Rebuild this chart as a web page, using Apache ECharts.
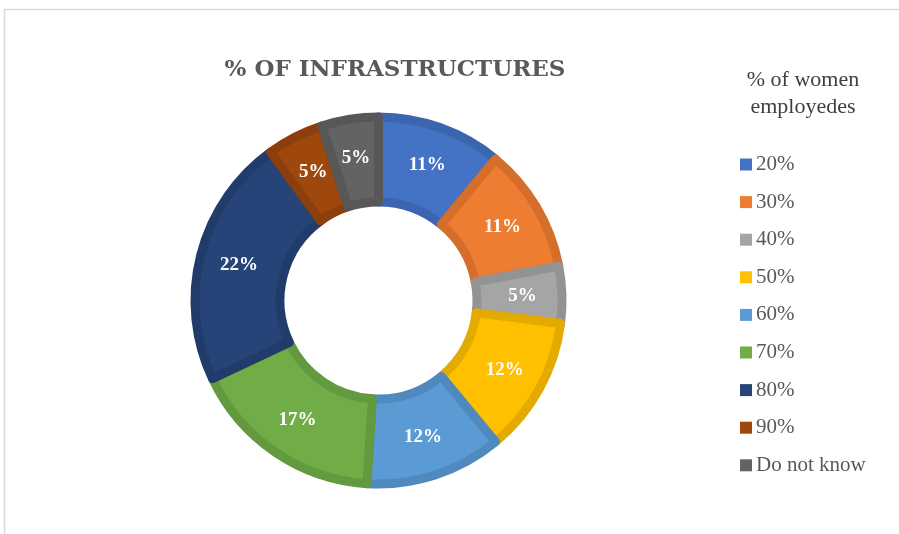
<!DOCTYPE html>
<html>
<head>
<meta charset="utf-8">
<script src="https://cdn.jsdelivr.net/npm/echarts@6/dist/echarts.min.js"></script>
<style>
  html, body { margin: 0; padding: 0; background: #fff; }
  #chart { width: 899px; height: 534px; }
</style>
</head>
<body>
<div id="chart"></div>
<script>
// Share of infrastructures by percentage of women employees
const categories = ['20%', '30%', '40%', '50%', '60%', '70%', '80%', '90%', 'Do not know'];
const shares = [11, 11, 5, 12, 12, 17, 22, 5, 5];
const fillColors = ['#4472C4', '#ED7D31', '#A5A5A5', '#FFC000', '#5B9BD5', '#70AD47', '#264478', '#9E480E', '#636363'];
const edgeColors = ['#3C65B0', '#D46E2A', '#939393', '#E3AB00', '#5089BE', '#63993F', '#213C6A', '#8C3F0C', '#575757'];

const serif = '"Liberation Serif", "DejaVu Serif", serif';

const chart = echarts.init(document.getElementById('chart'), null, { renderer: 'canvas' });

chart.setOption({
  animation: false,
  backgroundColor: '#ffffff',
  title: [
    {
      text: '% OF INFRASTRUCTURES',
      left: 390,
      top: 54,
      textAlign: 'center',
      textStyle: { fontFamily: '"DejaVu Serif", serif', fontSize: 23, fontWeight: 'bold', color: '#595959' }
    },
    {
      text: '% of women\nemployedes',
      left: 798,
      top: 62,
      textAlign: 'center',
      textStyle: { fontFamily: serif, fontSize: 22, fontWeight: 'normal', color: '#404040', lineHeight: 27 }
    }
  ],
  legend: {
    orient: 'vertical',
    left: 740,
    top: 154,
    padding: 0,
    itemWidth: 12,
    itemHeight: 12,
    itemGap: 16.6,
    icon: 'rect',
    itemStyle: { borderWidth: 0 },
    textStyle: { fontFamily: serif, fontSize: 21, color: '#595959', lineHeight: 20, padding: [0, 0, 0, -1] },
    data: categories
  },
  graphic: [
    {
      type: 'rect',
      shape: { x: 4.5, y: 9.5, width: 920, height: 560 },
      style: { fill: 'none', stroke: '#d9d9d9', lineWidth: 1.5 },
      silent: true
    }
  ],
  series: [
    {
      type: 'pie',
      center: [378.5, 300.5],
      radius: [98.5, 183.5],
      startAngle: 90,
      clockwise: true,
      avoidLabelOverlap: false,
      label: {
        show: true,
        position: 'inside',
        formatter: '{c}%',
        fontFamily: serif,
        fontSize: 19,
        fontWeight: 'bold',
        color: '#ffffff'
      },
      labelLine: { show: false },
      emphasis: { disabled: true },
      data: categories.map((name, i) => ({
        name: name,
        value: shares[i],
        itemStyle: { color: fillColors[i], borderColor: edgeColors[i], borderWidth: 9 }
      }))
    }
  ]
});
</script>
</body>
</html>
